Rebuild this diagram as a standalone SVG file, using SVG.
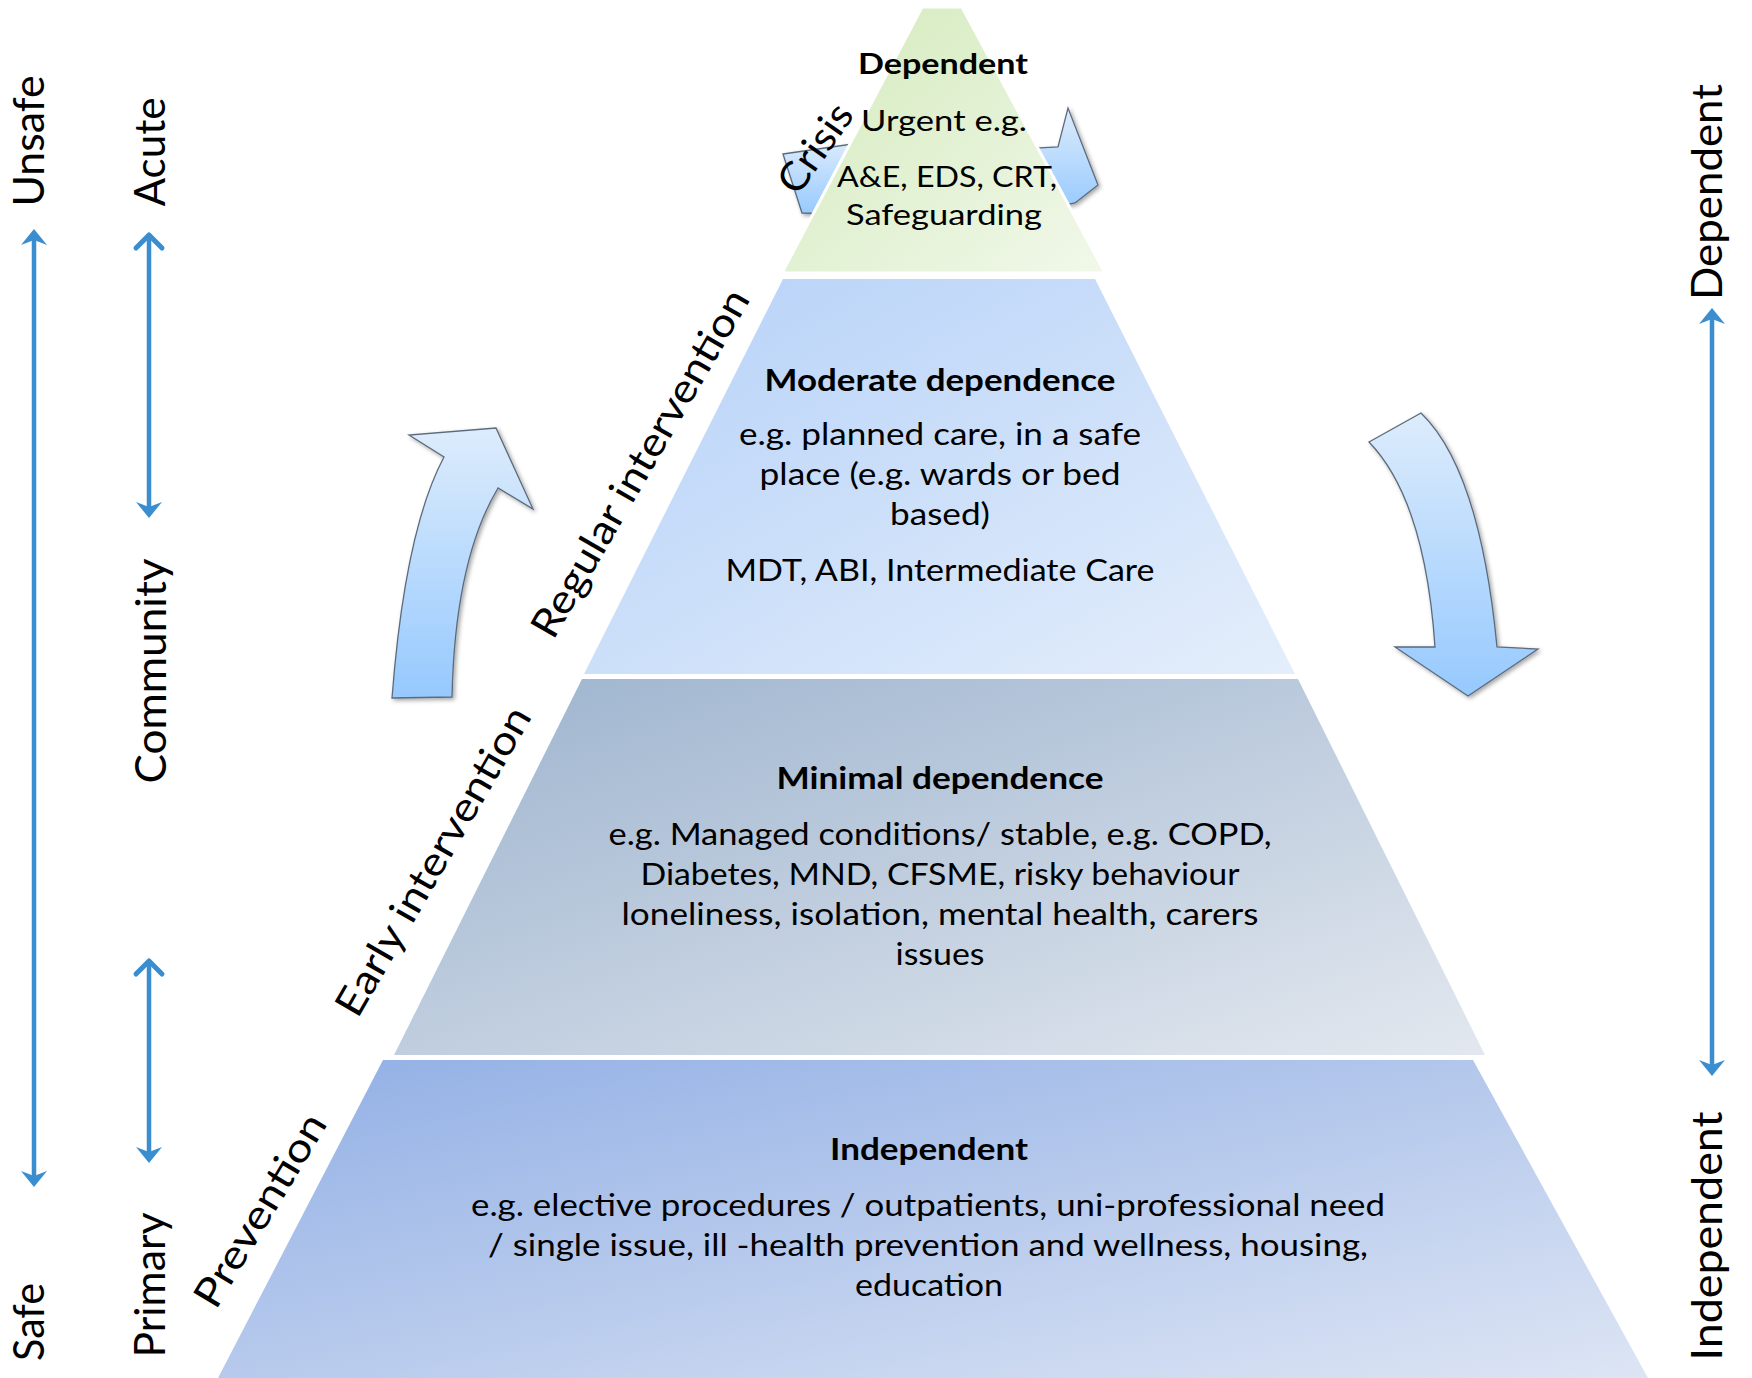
<svg xmlns="http://www.w3.org/2000/svg" width="1752" height="1378" viewBox="0 0 1752 1378">
<defs>
<linearGradient id="gT1" x1="0" y1="0" x2="1" y2="1"><stop offset="0" stop-color="#d3eabb"/><stop offset="1" stop-color="#f1f8ea"/></linearGradient>
<linearGradient id="gT2" x1="0" y1="0" x2="1" y2="1"><stop offset="0" stop-color="#b5d1f8"/><stop offset="1" stop-color="#e4eefb"/></linearGradient>
<linearGradient id="gT3" x1="0" y1="0" x2="1" y2="1"><stop offset="0" stop-color="#9cb3ce"/><stop offset="1" stop-color="#e3e8ef"/></linearGradient>
<linearGradient id="gT4" x1="0" y1="0" x2="1" y2="1"><stop offset="0" stop-color="#91afe5"/><stop offset="1" stop-color="#dde5f4"/></linearGradient>
<linearGradient id="gArr" x1="0" y1="0" x2="0" y2="1"><stop offset="0" stop-color="#ddecfc"/><stop offset="1" stop-color="#96c9fe"/></linearGradient>
<filter id="sh" x="-20%" y="-20%" width="140%" height="140%"><feDropShadow dx="2" dy="2" stdDeviation="2" flood-color="#000" flood-opacity="0.35"/></filter>
<marker id="mFill" viewBox="-17 -14 19 28" refX="-8" refY="0" markerWidth="19" markerHeight="28" markerUnits="userSpaceOnUse" orient="auto-start-reverse"><path d="M0,0 L-16,-13 L-11,0 L-16,13 Z" fill="#3a8ed0"/></marker>
<marker id="mOpen" viewBox="-18 -18 22 36" refX="0" refY="0" markerWidth="22" markerHeight="36" markerUnits="userSpaceOnUse" orient="auto-start-reverse"><path d="M-13,-13 L0,0 L-13,13" fill="none" stroke="#3a8ed0" stroke-width="5" stroke-linecap="round" stroke-linejoin="round"/></marker>
</defs>
<style>
text{font-family:Lato,"Open Sans","Liberation Sans",sans-serif;fill:#000;}
.b{font-weight:700;}
.t1{font-size:28px;}
.t{font-size:30px;}
.side{font-size:42px;}
.lab{font-size:40px;}
.big{fill:url(#gArr);stroke:#5c6b7c;stroke-width:1.3;filter:url(#sh);}
.ax{stroke:#3a8ed0;stroke-width:4.5;fill:none;}
</style>
<rect width="1752" height="1378" fill="#fff"/>

<g id="crisis-arrow">
<path class="big" d="M783,154 L880,140 L880,215 L802,213 Z"/>
<path class="big" d="M1000,150 L1058,147 L1068,108 L1098,185 L1075,203 L1030,212 Z"/>
</g>

<g id="tier-dependent">
<polygon points="922,7 962,7 1105,273 782,273" fill="url(#gT1)" stroke="#fff" stroke-width="3"/>
<text class="t1 b" x="943" y="74" text-anchor="middle" textLength="170" lengthAdjust="spacingAndGlyphs">Dependent</text>
<text class="t1" x="944" y="131" text-anchor="middle" textLength="166" lengthAdjust="spacingAndGlyphs">Urgent e.g.</text>
<text class="t1" x="947" y="187" text-anchor="middle" textLength="220" lengthAdjust="spacingAndGlyphs">A&amp;E, EDS, CRT,</text>
<text class="t1" x="944" y="225" text-anchor="middle" textLength="196" lengthAdjust="spacingAndGlyphs">Safeguarding</text>
</g>

<g id="tier-moderate">
<polygon points="783,279 1095,279 1295,674 584,674" fill="url(#gT2)"/>
<text class="t b" x="940" y="391" text-anchor="middle" textLength="351" lengthAdjust="spacingAndGlyphs">Moderate dependence</text>
<text class="t" x="940" y="445" text-anchor="middle" textLength="402" lengthAdjust="spacingAndGlyphs">e.g. planned care, in a safe</text>
<text class="t" x="940" y="485" text-anchor="middle" textLength="361" lengthAdjust="spacingAndGlyphs">place (e.g. wards or bed</text>
<text class="t" x="940" y="525" text-anchor="middle" textLength="100" lengthAdjust="spacingAndGlyphs">based)</text>
<text class="t" x="940" y="581" text-anchor="middle" textLength="429" lengthAdjust="spacingAndGlyphs">MDT, ABI, Intermediate Care</text>
</g>

<g id="tier-minimal">
<polygon points="582,679 1298,679 1485,1055 394,1055" fill="url(#gT3)"/>
<text class="t b" x="940" y="789" text-anchor="middle" textLength="327" lengthAdjust="spacingAndGlyphs">Minimal dependence</text>
<text class="t" x="940" y="845" text-anchor="middle" textLength="663" lengthAdjust="spacingAndGlyphs">e.g. Managed conditions/ stable, e.g. COPD,</text>
<text class="t" x="940" y="885" text-anchor="middle" textLength="599" lengthAdjust="spacingAndGlyphs">Diabetes, MND, CFSME, risky behaviour</text>
<text class="t" x="940" y="925" text-anchor="middle" textLength="637" lengthAdjust="spacingAndGlyphs">loneliness, isolation, mental health, carers</text>
<text class="t" x="940" y="965" text-anchor="middle" textLength="89" lengthAdjust="spacingAndGlyphs">issues</text>
</g>

<g id="tier-independent">
<polygon points="383,1060 1473,1060 1648,1378 218,1378" fill="url(#gT4)"/>
<text class="t b" x="929" y="1160" text-anchor="middle" textLength="198" lengthAdjust="spacingAndGlyphs">Independent</text>
<text class="t" x="928" y="1216" text-anchor="middle" textLength="914" lengthAdjust="spacingAndGlyphs">e.g. elective procedures / outpatients, uni-professional need</text>
<text class="t" x="928" y="1256" text-anchor="middle" textLength="880" lengthAdjust="spacingAndGlyphs">/ single issue, ill -health prevention and wellness, housing,</text>
<text class="t" x="929" y="1296" text-anchor="middle" textLength="148" lengthAdjust="spacingAndGlyphs">education</text>
</g>

<g id="up-arrow">
<path class="big" d="M392,698 L452,697 Q455,560 498,488 L533,509 L496,428 L409,435 L444,457 Q405,530 392,698 Z"/>
</g>
<g id="down-arrow">
<path class="big" d="M1369,442 L1421,413 Q1480,470 1497,647 L1538,649 L1468,696 L1395,647 L1435,647 Q1425,500 1369,442 Z"/>
</g>

<g id="labels">
<text class="lab" transform="translate(815,148) rotate(-55)" x="0" y="14" text-anchor="middle" textLength="100" lengthAdjust="spacingAndGlyphs">Crisis</text>
<text class="lab" transform="translate(640,463) rotate(-60)" x="0" y="14" text-anchor="middle" textLength="395" lengthAdjust="spacingAndGlyphs">Regular intervention</text>
<text class="lab" transform="translate(433,861) rotate(-60)" x="0" y="14" text-anchor="middle" textLength="350" lengthAdjust="spacingAndGlyphs">Early intervention</text>
<text class="lab" transform="translate(260,1210) rotate(-59)" x="0" y="14" text-anchor="middle" textLength="218" lengthAdjust="spacingAndGlyphs">Prevention</text>
<text class="side" transform="translate(29,141) rotate(-90)" x="0" y="15" text-anchor="middle" textLength="131" lengthAdjust="spacingAndGlyphs">Unsafe</text>
<text class="side" transform="translate(29,1322) rotate(-90)" x="0" y="15" text-anchor="middle" textLength="78" lengthAdjust="spacingAndGlyphs">Safe</text>
<text class="side" transform="translate(150,152) rotate(-90)" x="0" y="15" text-anchor="middle" textLength="109" lengthAdjust="spacingAndGlyphs">Acute</text>
<text class="side" transform="translate(151,671) rotate(-90)" x="0" y="15" text-anchor="middle" textLength="225" lengthAdjust="spacingAndGlyphs">Community</text>
<text class="side" transform="translate(150,1285) rotate(-90)" x="0" y="15" text-anchor="middle" textLength="145" lengthAdjust="spacingAndGlyphs">Primary</text>
<text class="side" transform="translate(1707,192) rotate(-90)" x="0" y="15" text-anchor="middle" textLength="216" lengthAdjust="spacingAndGlyphs">Dependent</text>
<text class="side" transform="translate(1707,1236) rotate(-90)" x="0" y="15" text-anchor="middle" textLength="249" lengthAdjust="spacingAndGlyphs">Independent</text>
</g>

<g id="connectors">
<line class="ax" x1="34" y1="237" x2="34" y2="1179" marker-start="url(#mFill)" marker-end="url(#mFill)"/>
<line class="ax" x1="149" y1="235" x2="149" y2="510" marker-start="url(#mOpen)" marker-end="url(#mFill)"/>
<line class="ax" x1="149" y1="961" x2="149" y2="1155" marker-start="url(#mOpen)" marker-end="url(#mFill)"/>
<line class="ax" x1="1712" y1="316" x2="1712" y2="1068" marker-start="url(#mFill)" marker-end="url(#mFill)"/>
</g>
</svg>
